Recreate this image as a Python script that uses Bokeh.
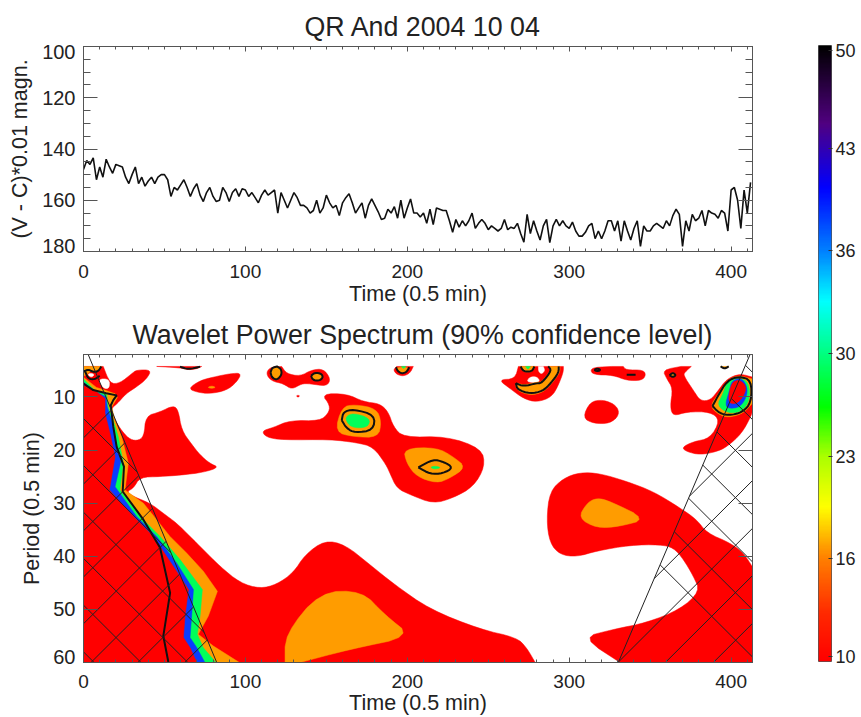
import numpy as np
from bokeh.plotting import figure
from bokeh.layouts import column, row
from bokeh.models import Range1d, LinearAxis, FixedTicker, LinearColorMapper
from bokeh.embed import file_html
from bokeh.resources import INLINE

# ---- light curve, one reading every 2 time units ----
light_a = [148,144.5,146,143.5,152,147,151,144,147,149.5,146,146.5,147,151,153.5,150,147,153.5,151,154.5,152.5,151,153.5,151,150,150,152,158.5,155,156,154,152,155,158.5,155.5,153.5,158,160.5,157,155,158.5,160.5,160,155,157,160.5,157,155.5,158.5,155.5,156,158.5,157]
light_b = [159,161,158,156,158,157,156,165,157,160,163,160,157,159,162,162,163,165,164,160,165,163,158,161,163,162,166,161,159,157.5,161,165,163,161,167,162,159.5,162,164.5,167.5,167,163.5,165,162.5,167,160,167,163,159.5,165,165,166.5]
light_c = [165,169,163.5,169.5,163,163.5,164,164,168,172.5,167.5,170.5,168,170,168,165,171,169,167.5,169,171.5,170,171,172,171,167.5,171.5,170.5,171,169,173,176.4,165.5,173,168,172,175.5,170,167.5,176.5,170,167.5,170,168,170,171,168.5,172,174,174,172.5]
light_d = [170,169,175,172,175,172,168,168,172,168,176,168,172,175.5,171,168,178,170,172,172,170,169,170,171,168,170,166,163.5,165.5,178,168,172,165.5,168,167,164,170,164,165,165.5,167,164,165,172,156,155,160,171,156,165,153]
light_values = light_a + light_b + light_c + light_d
light_time = [2 * i for i in range(len(light_values))]

# ---- wavelet power regions as (time, period) outlines ----
red_regions = [
 [(0,4.25),(12.2,4.25),(16.4,7.5),(22.5,7.4),(29.8,5.6),(32.8,4.9),(42,4.9),(39,6.6),(32.8,8.1),(26.2,9.4),(20.9,11.25),(17,12.2),(18.4,13.75),(22.5,15.9),(27.7,17.8),(32.8,18.3),(37.4,17.5),(38.4,13.6),(47.3,12.8),(55.5,11.6),(58.6,12.5),(60.6,16.25),(66.8,18.9),(72,20.9),(78,22.5),(83.7,23.25),(74,24.2),(60.6,24.7),(47.3,25),(34.9,25.1),(30.8,27.2),(26.7,27.8),(30.8,28.75),(41.1,30),(49.3,31.9),(57.5,33.75),(65.8,36.25),(74,38.75),(84.3,41.9),(96.7,45),(109,46.1),(119.3,45.3),(129.6,43.1),(136.8,39.7),(149,37),(161.5,37.8),(177,41.6),(192,45.3),(214,50),(245,53.75),(267.5,55.3),(273.7,57.2),(279,60),(0,60)],
 [(307.7,55.3),(327.3,53.75),(347.9,52.5),(368.5,50),(380.8,46.6),(376.7,43.75),(370.6,40.6),(364.5,38.4),(356.1,37.8),(337.6,37.9),(317,39),(304.6,40.1),(294.3,39.7),(288,37.5),(286,33.1),(288,27.8),(296.4,25.3),(306.7,24.2),(319,24.4),(335.5,25.9),(352,27.8),(368.5,30.9),(378.8,33.1),(385,35.6),(399.5,37.5),(407.7,39.4),(413,41.9),(413,60),(331.4,60)],
 [(357.7,4.9),(369,4.25),(375.4,4.25),(371.6,5.3),(370.5,5.9),(376.7,8.75),(381,10.75),(387.2,10.6),(392.1,8.75),(397.3,6.6),(405.5,5.6),(413,6.25),(413,12.5),(412.7,13.4),(406.5,16.9),(397.3,19.4),(391,20.3),(380.8,20.9),(372.5,20.3),(369.5,19.5),(376.7,18.4),(387,17.8),(393.2,14.4),(387.2,12.8),(372.8,12.8),(364.3,13.6),(362.3,11.9),(364,8.4),(360.3,6.6)],
 [(308.3,13.9),(312.9,10.9),(321,10.5),(329.3,11.6),(331,13.4),(325.2,15),(314.9,15)],
 [(313,4.9),(316,4.4),(326.2,4.25),(333.4,4.25),(335,4.9),(345.8,4.9),(347.4,5.9),(344.8,6.9),(335.5,6.9),(327.3,5.9),(315,5.8)],
 [(256.2,6.75),(266.5,6.6),(268.6,4.25),(296.4,4.25),(296.4,5.3),(293.3,7.8),(289.2,10),(280,11),(271.7,10.3),(263.4,8.4)],
 [(110,16.4),(117.2,15.75),(127.6,14.4),(146,14.5),(151.2,13.1),(152.3,11.6),(147,9.4),(162.5,9.4),(173,10.9),(183,11.25),(188.3,12.8),(191.4,15.6),(197.6,17.6),(224.2,17.4),(245.9,19.7),(248,23.1),(240.8,26.9),(228.4,29),(216,30.1),(201.7,28.4),(193.5,27.2),(189.3,24.4),(187,22.8),(179,19.4),(168.7,18.6),(152.3,18),(123,18.1),(113,17.6)],
 [(112.7,5.6),(115.2,4.4),(122.4,4.25),(125.5,5.6),(133.7,6.1),(141,4.9),(148.2,4.7),(152.7,6.6),(150.2,8),(139.9,7.5),(134.7,7.5),(128.6,8.6),(123.5,7.5),(116,7)],
 [(191.4,4.9),(193.4,4.25),(203.7,4.25),(201.7,5.5),(197.6,6.1),(193.4,5.75)],
 [(64.8,8.4),(72,6.9),(80.2,6.25),(90.5,5.6),(97.7,5.5),(94.6,7.2),(88.4,8.75),(78.1,9.4),(69.9,9.1)],
 [(45.2,4.25),(73,4.25),(69.9,4.7),(64.8,4.9),(59.6,4.5)],
 [(131.5,9.7),(133.5,9.7),(133,10),(132,10)],
]
white_holes = [
 [(2,5.6),(7,5.6),(5,6.4)],
 [(9,6.6),(16,6.6),(16,8.4),(12.2,8.4)],
 [(274,6.9),(276,6.2),(280,6.2),(282,7),(279,7.3),(275,7.2)],
 [(281,4.25),(284,4.25),(285,5),(283,5.7),(281,5.2)],
]
orange_regions = [
 [(0,6.3),(8,8.2),(14,8.8),(19.5,9.4),(20.9,10.1),(17.4,11.9),(19.5,14.4),(23.6,17.5),(27.7,22.5),(25.6,27.5),(37,30),(45.2,33.1),(53.4,36.25),(63.7,39.4),(74,42.8),(82.7,46.6),(77.1,51.25),(70.9,54.7),(80.2,56.9),(96.3,60),(0,60)],
 [(0,4.25),(11,4.25),(10,5),(5,5),(1,6),(0,6)],
 [(124.5,54.7),(146,46.7),(172,46.5),(186,51),(203,55.1),(164.6,57.5),(133.7,60),(124.5,60)],
 [(305.6,32.8),(310.8,30),(317,29),(325,29.6),(347.8,33),(331,34.4),(317,34.7)],
 [(159.5,11.9),(167.7,11.4),(181,12.2),(184,14.7),(182,17.6),(166.7,17.5),(155.3,16.6)],
 [(197.6,19.7),(218.1,19.5),(228.4,21.25),(236.2,23.25),(226.3,25.3),(218.1,26.25),(205.8,25),(199.6,22.5)],
 [(76.5,8.2),(79.2,7.9),(81.8,8.2),(79.2,8.4)],
 [(266.6,7.2),(271.7,7.8),(280,7.2),(283,7.2),(289.2,4.7),(287,4.25),(294.3,4.25),(294.3,5.4),(289.2,7.5),(284,9.1),(275.8,9.7),(267.5,8.75)],
 [(269.6,4.25),(271.7,5.3),(277,5.3),(279,4.25)],
 [(387,11.75),(392.1,9.4),(397.3,6.9),(404.4,5.9),(413,6.6),(413,11.25),(407.5,13.1),(398.3,13.9),(392,13.25)],
 [(115.5,5.4),(116.5,4.5),(119.5,4.25),(122,4.7),(122.5,5.8),(119.5,6.8),(116.5,6.4)],
 [(140.6,6),(143,5.4),(147,5.6),(148,6.4),(145,7),(141.5,6.75)],
 [(193,4.4),(201.2,4.4),(199.6,5.3),(196.5,5.6),(193.9,5.1)],
 [(362,5.9),(364,5.4),(366,5.9),(364,6.3)],
 [(393.5,4.25),(398.5,4.25),(396,4.7)],
]
green_regions = [
 [(0,6.6),(7,8.75),(14.3,9.4),(15.3,11.9),(18.4,14.4),(21.5,17.5),(24.6,22.5),(22.5,27.5),(34.9,32.5),(47.3,36.25),(59.6,40.6),(73.4,46.25),(72,51.25),(70.3,54.7),(74,57.2),(81.8,60),(0,60)],
 [(161.5,13.75),(166.7,13),(177,14),(175.9,15.6),(168.7,15.9),(163.6,15.3)],
 [(214,23.25),(217,23),(221,23.3),(217,23.6)],
 [(391.1,11.6),(395,9.4),(397.3,7.2),(404.4,6.3),(411,7.2),(411.6,10.6),(406.5,12.8),(398.3,13.1)],
 [(273,4.25),(276,4.25),(275,4.7),(274,4.7)],
 [(196.3,4.25),(199.2,4.25),(197.6,4.7)],
]
blue_regions = [
 [(0,7.2),(6,8.75),(13.9,10),(14.7,11.9),(17.4,14.4),(20.1,18.75),(23,22.2),(19.5,26.9),(32.8,32.5),(45.2,36.25),(57.5,41.25),(67.9,46.25),(66.8,51.25),(65.8,55.3),(70,57.2),(75,60),(0,60)],
 [(396.2,11.6),(399,8.75),(400.4,6.9),(406.5,6.4),(410,8.1),(409.6,10),(405.5,11.9),(399.3,12.2)],
]
inner_red_regions = [
 [(0,7.8),(8,9),(13.3,10.3),(13.3,13.1),(16.4,16.9),(19.5,21.25),(16,27.5),(30.8,32.5),(43.1,36.25),(55.5,41.9),(64.8,46.25),(62.7,51.25),(61.7,55.3),(65.8,57.2),(70,60),(0,60)],
 [(398.3,10),(400.4,7.2),(405.5,6.75),(409.6,8.1),(407.5,10),(403.4,11.25),(399.3,11.25)],
]
# ---- 90% confidence contours ----
confidence_lines = [
 [(0,7.5),(6,8.7),(14,9.3),(20.5,9.7),(18.4,10.6),(16.8,11.6),(18.4,15.6),(20.5,19.4),(25,23.1),(24.2,27.8),(37,33.1),(47.3,38.4),(53.5,46.9),(49.3,55),(52.4,59.9)],
 [(0,5.2),(3,4.8),(6,5.3),(9,5.2),(11,4.25)],
 [(1,5.2),(3,6.6),(7,6.7),(10,6)],
 [(159.5,14.4),(160.5,12.8),(166.7,12.3),(180,13.4),(179,16.25),(167.7,16.75),(162.5,15.9),(159.5,14.4)],
 [(206.8,23.25),(216,21.75),(222.3,22.2),(228.4,23.3),(222,24.4),(214,24.5),(206.8,23.25)],
 [(115.5,5.4),(116.5,4.5),(119.5,4.25),(122,4.7),(122.5,5.8),(119.5,6.8),(116.5,6.4),(115.5,5.4)],
 [(140.6,6),(143,5.4),(147,5.6),(148,6.4),(145,7),(141.5,6.75),(140.6,6)],
 [(193,4.4),(194,5.1),(196.5,5.6),(199.6,5.3),(201.2,4.4)],
 [(59.6,4.3),(64.8,4.8),(72,4.3)],
 [(267,7.4),(271.7,8),(280,7.4),(283,7.4),(289.2,5),(287,4.25)],
 [(293.5,4.25),(293.5,5.4),(288.7,7.4),(283.6,8.9),(275.8,9.4),(268,8.6),(267,7.4)],
 [(270,4.25),(271.7,5.2),(277,5.2),(278.5,4.25)],
 [(315.5,4.9),(317.4,4.6),(319.5,4.9),(317.4,5.2),(315.5,4.9)],
 [(335.5,5.8),(341,5.8)],
 [(362,5.9),(364,5.4),(366,5.9),(364,6.3),(362,5.9)],
 [(393.5,4.25),(396,4.7),(398.5,4.25)],
 [(388.5,11.7),(392.6,9.4),(397.5,7),(404.4,6.1),(412.5,6.8),(412.5,11),(407,12.9),(398.3,13.5),(392.5,13),(388.5,11.7)],
]
# cone of influence and its hatch lines
coi_left_time = [2.9, 82.3]
coi_left_period = [2, 60]
coi_right_time = [411.7, 330.3]
coi_right_period = [2, 60]
left_down_starts = [14.06, 22.9, 31.7, 40.4, 49.2, 58]
left_up_starts = [17.7, 26.4, 35.2, 43.9, 52.7, 61.4, 70.2, 79]
right_down_starts = [5.3, 14.2, 23.2, 32.1, 41, 50, 58.9]
right_up_starts = [16.9, 25.8, 34.8, 43.7, 52.7, 61.6, 70.5, 79.5, 88.4, 97.3]

# ---- colour bar ----
bar_labels = ["10", "16", "23", "30", "36", "43", "50"]
bar_stops = [10, 13, 16.67, 20, 23.3, 26.5, 30, 33.4, 36.7, 40.8, 45, 50]
bar_colors = [(255,0,0),(255,40,0),(255,128,0),(255,255,0),(170,255,0),(0,255,0),(0,255,128),(0,255,255),(0,128,255),(0,0,255),(80,0,128),(0,0,0)]

time_ticks = [0, 100, 200, 300, 400]
time_minor = [10 * i for i in range(42)]
mag_ticks = [100, 120, 140, 160, 180]
mag_minor = [100 + 5 * i for i in range(17)]
period_ticks = [10, 20, 30, 40, 50, 60]

FONT = "Liberation Sans"
INK = "#222222"
FRAME = "#555555"
LABEL_PX = "21.5px"


def style_text(ax, px):
    ax.major_label_text_font = FONT
    ax.major_label_text_font_size = f"{px}px"
    ax.major_label_text_color = INK
    ax.axis_label_text_font = FONT
    ax.axis_label_text_font_size = LABEL_PX
    ax.axis_label_text_font_style = "normal"
    ax.axis_label_text_color = INK


def tick_axis(p, side, ticks, length):
    # a label-free axis: its marks are drawn as inward ticks on the frame
    ax = LinearAxis(ticker=FixedTicker(ticks=[], minor_ticks=ticks))
    ax.major_tick_line_color = None
    ax.minor_tick_in = length
    ax.minor_tick_out = 0
    ax.minor_tick_line_color = FRAME
    ax.axis_line_color = FRAME
    p.add_layout(ax, side)


def panel(title, title_offset, width, height, left, right, top, bottom, xr, yr, ytick, yminor, ylabel, shown, names, xstand, xlab, ylab):
    p = figure(width=width, height=height, x_range=xr, y_range=yr, output_backend="svg",
               toolbar_location=None, min_border_left=left, min_border_right=right,
               min_border_top=top, min_border_bottom=bottom, x_axis_type=None, y_axis_type=None)
    p.grid.visible = False
    p.outline_line_color = FRAME
    p.title.text = title
    p.title.align = "left"
    p.title.offset = title_offset
    p.title.text_font = FONT
    p.title.text_font_style = "normal"
    p.title.text_font_size = "26.8px"
    p.title.text_color = INK

    tick_axis(p, "below", time_minor, 3)
    xa = LinearAxis(ticker=FixedTicker(ticks=time_ticks))
    xa.axis_label = "Time (0.5 min)"
    style_text(xa, 19)
    xa.major_label_standoff = xstand
    xa.axis_label_standoff = xlab
    xa.major_tick_in = 5
    xa.major_tick_out = 0
    xa.minor_tick_line_color = None
    xa.axis_line_color = FRAME
    xa.major_tick_line_color = FRAME
    p.add_layout(xa, "below")

    tick_axis(p, "left", ytick, 14)
    if yminor:
        tick_axis(p, "left", yminor, 7)
    ya = LinearAxis(ticker=FixedTicker(ticks=shown))
    ya.major_label_overrides = names
    ya.axis_label = ylabel
    style_text(ya, 20)
    ya.major_label_standoff = 8
    ya.axis_label_standoff = ylab
    ya.major_tick_in = 0
    ya.major_tick_out = 0
    ya.minor_tick_line_color = None
    ya.major_tick_line_color = None
    ya.axis_line_color = None
    p.add_layout(ya, "left")

    tick_axis(p, "right", ytick, 14)
    if yminor:
        tick_axis(p, "right", yminor, 7)
    tick_axis(p, "above", time_ticks, 5)
    tick_axis(p, "above", time_minor, 3)
    return p


XR = lambda: Range1d(0, 413.2)
p1 = panel("QR And 2004 10 04", 221, 790, 310, 83, 38, 46, 59, XR(), Range1d(180, 100),
           mag_ticks, mag_minor, "(V - C)*0.01 magn.",
           [102.2, 120, 140, 160, 177.8], {102.2: "100", 120: "120", 140: "140", 160: "160", 177.8: "180"}, 13, 1, 7)
p1.line(light_time, light_values, line_color="#111111", line_width=1.6)

p2 = panel("Wavelet Power Spectrum (90% confidence level)", 49, 790, 407, 83, 38, 44, 55, XR(), Range1d(60, 2),
           period_ticks, [], "Period (0.5 min)",
           [10, 20, 30, 40, 50, 58.9], {10: "10", 20: "20", 30: "30", 40: "40", 50: "50", 58.9: "60"}, 12, 0, 6)


def on_edge(q):
    return q[0] <= 0 or q[0] >= 413 or q[1] >= 60 or q[1] <= 4.25


def smooth(r, closed=True, rounds=2):
    # corner cutting so that hand-read outlines curve as contours do; points on the frame stay
    pts = list(r)
    for _ in range(rounds):
        out = []
        n = len(pts)
        for i in range(n if closed else n - 1):
            a, b = pts[i], pts[(i + 1) % n]
            qa = a if on_edge(a) else (0.75 * a[0] + 0.25 * b[0], 0.75 * a[1] + 0.25 * b[1])
            qb = b if on_edge(b) else (0.25 * a[0] + 0.75 * b[0], 0.25 * a[1] + 0.75 * b[1])
            out += [qa, qb]
        if not closed:
            out = [pts[0]] + out + [pts[-1]]
        pts = out
    return pts


def fill(regions, color, keep_first=False):
    rs = [r if (keep_first and i == 0) else smooth(r) for i, r in enumerate(regions)]
    p2.patches([[q[0] for q in r] for r in rs], [[q[1] for q in r] for r in rs],
               fill_color=color, line_color=color, line_width=0.5)


fill(red_regions, "#ff0000")
fill(white_holes, "#ffffff")
fill(orange_regions, "#ff9c00", True)
fill(green_regions, "#00ff5a", True)
fill(blue_regions, "#0a3cff", True)
fill(inner_red_regions, "#ff0000", True)
lines = [r if i == 0 else smooth(r, closed=False) for i, r in enumerate(confidence_lines)]
p2.multi_line([[q[0] for q in r] for r in lines], [[q[1] for q in r] for r in lines],
              line_color="#111111", line_width=2)

SLOPE = 3.29
grid_p = np.linspace(2, 60, 2321)


def hatch(starts, ref_t, sign, inside):
    xs, ys = [], []
    for p0 in starts:
        t = ref_t + sign * SLOPE * (grid_p - p0)
        m = inside(t, grid_p)
        if m.any():
            i = np.flatnonzero(m)
            xs.append([float(t[i[0]]), float(t[i[-1]])])
            ys.append([float(grid_p[i[0]]), float(grid_p[i[-1]])])
    return xs, ys


left_in = lambda t, q: (t >= 0) & (t <= coi_left_time[1] / coi_left_period[1] * q)
right_in = lambda t, q: (t <= 413.2) & (t >= coi_right_time[0] + (coi_right_time[1] - coi_right_time[0]) * (q - 2) / 58)
for starts, ref, sign, test in [(left_down_starts, 0, 1, left_in), (left_up_starts, 0, -1, left_in),
                                (right_down_starts, 413, 1, right_in), (right_up_starts, 413, -1, right_in)]:
    xs, ys = hatch(starts, ref, sign, test)
    p2.multi_line(xs, ys, line_color="#222222", line_width=1)
p2.line(coi_left_time, coi_left_period, line_color="#222222", line_width=1)
p2.line(coi_right_time, coi_right_period, line_color="#222222", line_width=1)

# colour bar
cb = figure(width=71, height=710, x_range=Range1d(0, 1), y_range=Range1d(10, 50), output_backend="svg",
            toolbar_location=None, min_border_left=28, min_border_right=30, min_border_top=45, min_border_bottom=49,
            x_axis_type=None, y_axis_type=None)
cb.grid.visible = False
cb.outline_line_color = FRAME
levels = np.linspace(10, 50, 256)
pal = []
for lv in levels:
    rgb = [int(round(np.interp(lv, bar_stops, [c[k] for c in bar_colors]))) for k in range(3)]
    pal.append("#%02x%02x%02x" % tuple(rgb))
mapper = LinearColorMapper(palette=pal, low=10, high=50)
cb.image(image=[levels[:, None]], x=0, y=10, dw=1, dh=40, color_mapper=mapper)
shown_bar = [10.3, 16.67, 23.33, 30, 36.67, 43.33, 49.65]
bar_axis = LinearAxis(ticker=FixedTicker(ticks=shown_bar))
bar_axis.major_label_overrides = dict(zip(shown_bar, bar_labels))
style_text(bar_axis, 18)
bar_axis.major_label_standoff = 3
bar_axis.major_tick_in = 3
bar_axis.major_tick_out = 1
bar_axis.major_tick_line_color = "#333333"
bar_axis.minor_tick_line_color = None
bar_axis.axis_line_color = None
cb.add_layout(bar_axis, "right")

page = row(column(p1, p2), cb)
open("out.html", "w").write(file_html(page, INLINE))
